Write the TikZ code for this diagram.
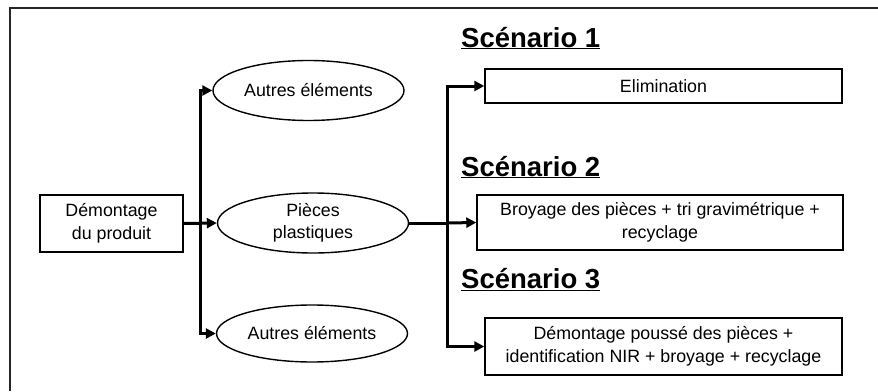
\documentclass[tikz,border=0pt]{standalone}
\usepackage{fontspec}
\setmainfont{Liberation Sans}
\usepackage{xcolor}
\usepackage{tikz}
\usetikzlibrary{arrows.meta,positioning,calc,shapes.geometric}

\begin{document}
\begin{tikzpicture}[x=1pt,y=-1pt,
    box/.style={draw,line width=1.4pt,rectangle,align=center,inner sep=0pt,
      font=\fontsize{17.8}{22.5}\selectfont},
    oval/.style={draw,line width=1.4pt,ellipse,align=center,inner sep=0pt,
      minimum width=191pt,minimum height=60pt,font=\fontsize{17.8}{22.5}\selectfont},
    scen/.style={anchor=base west,inner sep=0pt,font=\fontsize{27.5}{30}\selectfont\bfseries},
    conn/.style={line width=3pt,line join=miter,-{Triangle[length=10pt,width=10pt]}},
    link/.style={line width=3pt,line join=miter}]
            \useasboundingbox (0,0) rectangle (878,391);
            \draw[line width=2pt,black!85] (10,391) -- (10,8) -- (878,8);
            % left part
            \node[box,minimum width=143pt,minimum height=57pt] (demontage) at (111.5,223.5) {Démontage\\du produit};
            \node[oval] (autresA) at (308.5,90.5) {Autres éléments};
            \node[oval] (pieces) at (313,223) {Pièces\\plastiques};
            \node[oval,minimum height=57pt] (autresB) at (312,333.5) {Autres éléments};
            \coordinate (jA) at (200,223);
            % scenarios
            \node[scen] (sc1) at (461,47) {\underline{Scénario 1}};
            \node[scen] (sc2) at (461,176) {\underline{Scénario 2}};
            \node[scen] (sc3) at (461,288) {\underline{Scénario 3}};
            \node[box,minimum width=357pt,minimum height=34pt] (elim) at (663.5,86) {Elimination};
            \node[box,minimum width=366pt,minimum height=55pt] (broyage) at (660,222.5) {Broyage des pièces + tri gravimétrique +\\recyclage};
            \node[box,minimum width=357pt,minimum height=57pt] (demNIR) at (663.5,346.5) {Démontage poussé des pièces +\\identification NIR + broyage + recyclage};
            \coordinate (jB) at (447,223);
            % connectors
            \draw[conn] (demontage.east) -- (pieces.west);
            \draw[conn] (jA) |- (autresA.west);
            \draw[conn] (jA) |- (autresB.west);
            \draw[link] (pieces.east) -- (jB);
            \draw[conn] (jB) |- (elim.west);
            \draw[conn] (jB) -- (broyage.west);
            \draw[conn] (jB) |- (demNIR.west);
        \end{tikzpicture}
\end{document}
